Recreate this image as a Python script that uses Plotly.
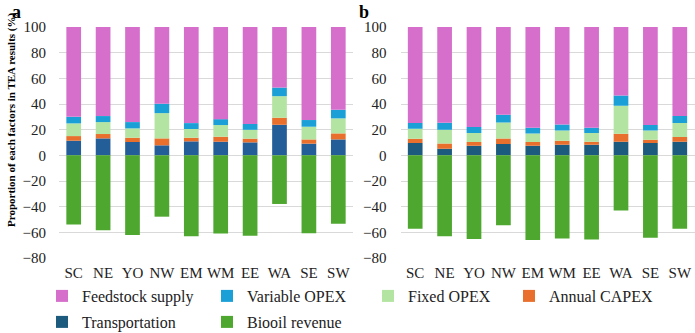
import plotly.graph_objects as go

regions = ["SC", "NE", "YO", "NW", "EM", "WM", "EE", "WA", "SE", "SW"]

# Panel a
a_transport = [11.4, 13.2, 10.4, 7.8, 10.9, 10.6, 10.1, 23.8, 9.1, 12.4]
a_capex = [3.6, 3.4, 3.3, 5.4, 2.8, 3.9, 2.9, 5.5, 3.3, 4.7]
a_fixed = [9.9, 9.3, 7.3, 19.7, 6.8, 9.1, 6.9, 16.8, 9.9, 11.7]
a_variable = [5.1, 4.7, 4.9, 7.3, 4.6, 4.6, 4.5, 6.7, 5.2, 6.7]
a_feedstock = [70.0, 69.4, 74.1, 59.8, 74.9, 71.8, 75.6, 47.2, 72.5, 64.5]
a_revenue = [-53.9, -58.3, -62.0, -47.8, -63.0, -60.9, -62.7, -37.9, -60.7, -53.3]

# Panel b
b_transport = [9.6, 5.2, 7.5, 8.8, 7.5, 8.3, 8.3, 10.6, 9.6, 10.6]
b_capex = [3.4, 4.1, 2.9, 4.4, 2.9, 3.1, 2.3, 6.2, 2.6, 3.6]
b_fixed = [7.7, 10.6, 7.0, 12.4, 6.7, 8.0, 6.8, 21.8, 7.2, 10.9]
b_variable = [4.4, 5.5, 4.6, 6.0, 4.4, 4.7, 4.1, 8.0, 4.2, 5.5]
b_feedstock = [74.9, 74.6, 78.0, 68.4, 78.5, 75.9, 78.5, 53.4, 76.4, 69.4]
b_revenue = [-57.3, -63.0, -65.1, -54.4, -65.9, -64.8, -65.6, -42.9, -64.3, -57.3]

y_ticks = [-80, -60, -40, -20, 0, 20, 40, 60, 80, 100]

FONT = "Liberation Serif"
col = {
    "Feedstock supply": "#D56FCB",
    "Variable OPEX": "#1AA0D6",
    "Fixed OPEX": "#B4E4A1",
    "Annual CAPEX": "#E8702C",
    "Transportation_a": "#245E99",
    "Transportation_b": "#1C5B7E",
    "Biooil revenue": "#4EA72E",
}

legend_ids = {
    "Feedstock supply": "legend",
    "Variable OPEX": "legend2",
    "Fixed OPEX": "legend3",
    "Annual CAPEX": "legend4",
    "Transportation": "legend5",
    "Biooil revenue": "legend6",
}

fig = go.Figure()

def add_panel(xa, ya, data, show):
    for name, vals, c in data:
        fig.add_trace(go.Bar(
            x=regions, y=vals, name=name, marker_color=c, marker_line_width=0,
            xaxis=xa, yaxis=ya, showlegend=show, legend=legend_ids[name],
            width=0.5,
        ))

add_panel("x", "y", [
    ("Transportation", a_transport, col["Transportation_a"]),
    ("Annual CAPEX", a_capex, col["Annual CAPEX"]),
    ("Fixed OPEX", a_fixed, col["Fixed OPEX"]),
    ("Variable OPEX", a_variable, col["Variable OPEX"]),
    ("Feedstock supply", a_feedstock, col["Feedstock supply"]),
    ("Biooil revenue", a_revenue, col["Biooil revenue"]),
], False)

add_panel("x2", "y2", [
    ("Transportation", b_transport, col["Transportation_b"]),
    ("Annual CAPEX", b_capex, col["Annual CAPEX"]),
    ("Fixed OPEX", b_fixed, col["Fixed OPEX"]),
    ("Variable OPEX", b_variable, col["Variable OPEX"]),
    ("Feedstock supply", b_feedstock, col["Feedstock supply"]),
    ("Biooil revenue", b_revenue, col["Biooil revenue"]),
], True)

W, H = 695, 333
T, B = 27, 75
PH = H - T - B

def py2paper(py):
    return (H - B - py) / PH

ax_common = dict(showgrid=False, showline=False, zeroline=False, ticks="",
                 tickfont=dict(family=FONT, size=15, color="#222"),
                 ticklabelstandoff=4)
ay_common = dict(range=[-80, 100], tickvals=y_ticks, showgrid=True,
                 gridcolor="#D9D9D9", gridwidth=1, zeroline=True,
                 zerolinecolor="#D9D9D9", zerolinewidth=1, showline=False,
                 tickfont=dict(family=FONT, size=15, color="#222"))

legend_pos = {
    "legend": (57, 296),
    "legend2": (222, 296),
    "legend3": (383, 296),
    "legend4": (524, 296),
    "legend5": (57, 322),
    "legend6": (222, 322),
}
legend_layout = {}
for k, (px, py) in legend_pos.items():
    legend_layout[k] = dict(
        x=(px - 15) / W, y=py2paper(py), xanchor="left", yanchor="middle",
        bgcolor="rgba(0,0,0,0)", font=dict(family=FONT, size=16, color="#222"),
        borderwidth=0, itemclick=False,
    )

fig.update_layout(
    width=W, height=H,
    margin=dict(l=0, r=0, t=T, b=B, autoexpand=False),
    paper_bgcolor="white", plot_bgcolor="white",
    barmode="relative", bargap=0.5,
    xaxis=dict(domain=[59 / W, 353 / W], anchor="y", **ax_common),
    xaxis2=dict(domain=[400.5 / W, 694.5 / W], anchor="y2", **ax_common),
    yaxis=dict(anchor="x", ticklabelstandoff=12, **ay_common),
    yaxis2=dict(anchor="x2", ticklabelstandoff=13, **ay_common),
    annotations=[
        dict(text="<b>a</b>", x=16 / W, y=py2paper(12), xref="paper", yref="paper",
             xanchor="center", yanchor="middle",
             showarrow=False, font=dict(family=FONT, size=18, color="black")),
        dict(text="<b>b</b>", x=364 / W, y=py2paper(12), xref="paper", yref="paper",
             xanchor="center", yanchor="middle",
             showarrow=False, font=dict(family=FONT, size=18, color="black")),
        dict(text="<b>Proportion of each factors in TEA results (%)</b>",
             x=11 / W, y=py2paper(120), xref="paper", yref="paper", textangle=-90,
             xanchor="center", yanchor="middle",
             showarrow=False, font=dict(family=FONT, size=11, color="black")),
    ],
    **legend_layout,
)

fig.write_html("out.html")
